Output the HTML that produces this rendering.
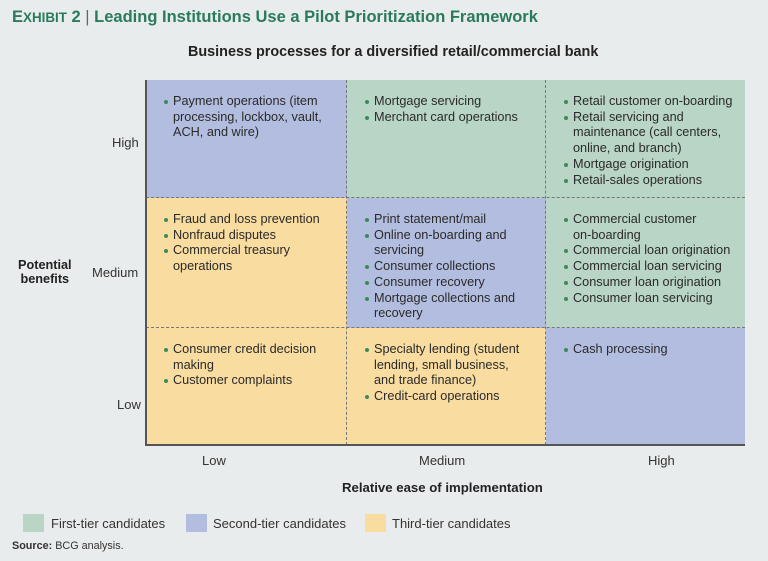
<!DOCTYPE html>
<html><head><style>
body{margin:0;width:768px;height:561px;background:#e9ecec;font-family:"Liberation Sans",sans-serif;color:#222;position:relative;overflow:hidden}
.a{position:absolute;white-space:nowrap}
.cell{position:absolute;box-sizing:border-box;padding:14px 0 0 17px;font-size:12.7px;line-height:15.7px;color:#2a2a2a}
.g{background:#b9d5c5}.b{background:#b3bddf}.y{background:#f8dca0}
.cell div{position:relative;padding-left:10px;white-space:nowrap}
.cell div:before{content:"";position:absolute;left:1px;top:6px;width:4px;height:4px;border-radius:50%;background:#3a8a5c}
.vd{position:absolute;width:0;border-left:1.5px dashed #777}
.hd{position:absolute;height:0;border-top:1.5px dashed #777}
.lab{font-size:13px;color:#333}
</style></head><body>
<div class="a" style="left:12px;top:8px;font-size:16.5px;font-weight:bold;color:#2a7a5c">E<span style="font-size:13.4px">XHIBIT</span> 2 <span style="font-weight:normal;color:#666">|</span> Leading Institutions Use a Pilot Prioritization Framework</div>
<div class="a" style="left:188px;top:44px;font-size:14.4px;font-weight:bold">Business processes for a diversified retail/commercial bank</div>

<div class="cell b" style="left:146px;top:80px;width:201px;height:118px"><div>Payment operations (item<br>processing, lockbox, vault,<br>ACH, and wire)</div></div>
<div class="cell g" style="left:347px;top:80px;width:199px;height:118px"><div>Mortgage servicing</div><div>Merchant card operations</div></div>
<div class="cell g" style="left:546px;top:80px;width:199px;height:118px"><div>Retail customer on-boarding</div><div>Retail servicing and<br>maintenance (call centers,<br>online, and branch)</div><div>Mortgage origination</div><div>Retail-sales operations</div></div>

<div class="cell y" style="left:146px;top:198px;width:201px;height:130px"><div>Fraud and loss prevention</div><div>Nonfraud disputes</div><div>Commercial treasury<br>operations</div></div>
<div class="cell b" style="left:347px;top:198px;width:199px;height:130px"><div>Print statement/mail</div><div>Online on-boarding and<br>servicing</div><div>Consumer collections</div><div>Consumer recovery</div><div>Mortgage collections and<br>recovery</div></div>
<div class="cell g" style="left:546px;top:198px;width:199px;height:130px"><div>Commercial customer<br>on-boarding</div><div>Commercial loan origination</div><div>Commercial loan servicing</div><div>Consumer loan origination</div><div>Consumer loan servicing</div></div>

<div class="cell y" style="left:146px;top:328px;width:201px;height:117px"><div>Consumer credit decision<br>making</div><div>Customer complaints</div></div>
<div class="cell y" style="left:347px;top:328px;width:199px;height:117px"><div>Specialty lending (student<br>lending, small business,<br>and trade finance)</div><div>Credit-card operations</div></div>
<div class="cell b" style="left:546px;top:328px;width:199px;height:117px"><div>Cash processing</div></div>

<div class="vd" style="left:346px;top:80px;height:365px"></div>
<div class="vd" style="left:545px;top:80px;height:365px"></div>
<div class="hd" style="left:146px;top:197px;width:599px"></div>
<div class="hd" style="left:146px;top:327px;width:599px"></div>
<div style="position:absolute;left:145px;top:80px;width:1.5px;height:366px;background:#555"></div>
<div style="position:absolute;left:145px;top:444px;width:600px;height:1.5px;background:#555"></div>

<div class="a lab" style="left:112px;top:135px">High</div>
<div class="a lab" style="left:92px;top:265px">Medium</div>
<div class="a lab" style="left:117px;top:397px">Low</div>
<div class="a" style="left:18px;top:258px;font-size:12.7px;font-weight:bold;text-align:center;line-height:14px">Potential<br>benefits</div>
<div class="a lab" style="left:202px;top:453px">Low</div>
<div class="a lab" style="left:419px;top:453px">Medium</div>
<div class="a lab" style="left:648px;top:453px">High</div>
<div class="a" style="left:342px;top:480px;font-size:13.2px;font-weight:bold">Relative ease of implementation</div>

<div style="position:absolute;left:23px;top:514px;width:21px;height:18px" class="g"></div>
<div class="a lab" style="left:51px;top:516px">First-tier candidates</div>
<div style="position:absolute;left:186px;top:514px;width:21px;height:18px" class="b"></div>
<div class="a lab" style="left:213px;top:516px">Second-tier candidates</div>
<div style="position:absolute;left:365px;top:514px;width:21px;height:18px" class="y"></div>
<div class="a lab" style="left:392px;top:516px">Third-tier candidates</div>
<div class="a" style="left:12px;top:540px;font-size:10.8px;color:#333"><b>Source:</b> BCG analysis.</div>
</body></html>
